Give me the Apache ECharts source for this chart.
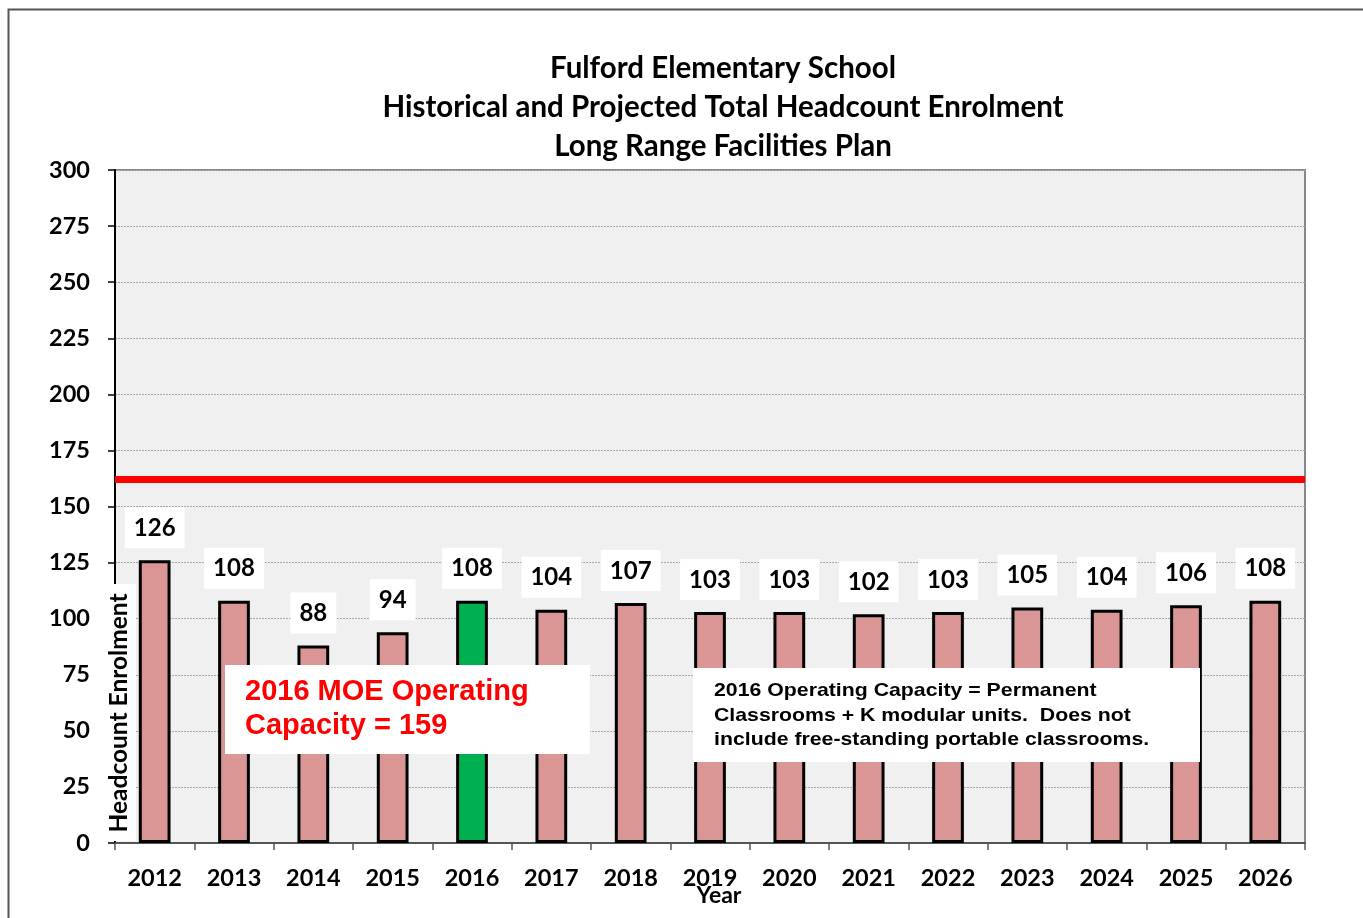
<!DOCTYPE html>
<html>
<head>
    <meta charset="utf-8">
    <title>Fulford Elementary School</title>
    <script src="https://cdn.jsdelivr.net/npm/echarts@6/dist/echarts.min.js"></script>
    <style>
        html, body { margin: 0; padding: 0; background: #fff; }
        #chart { width: 1363px; height: 918px; }
    </style>
</head>
<body>
<div id="chart"></div>
<script type="text/javascript">
    // enrolment by year
    var years = ['2012', '2013', '2014', '2015', '2016', '2017', '2018', '2019', '2020', '2021', '2022', '2023', '2024', '2025', '2026'];
    var enrolment = [126, 108, 88, 94, 108, 104, 107, 103, 103, 102, 103, 105, 104, 106, 108];
    var currentYear = '2016';
    var capacityLine = 162;
    var yTicks = [0, 25, 50, 75, 100, 125, 150, 175, 200, 225, 250, 275, 300];

    var titleFont = 'Lato, "Open Sans", sans-serif';
    var noteFont = '"Liberation Sans", Arial, sans-serif';

    var barData = enrolment.map(function (v, i) {
        if (years[i] === currentYear) {
            return { value: v, itemStyle: { color: '#00b050' } };
        }
        return v;
    });

    var myChart = echarts.init(document.getElementById('chart'));
    myChart.setOption({
        animation: false,
        backgroundColor: '#fff',
        title: {
            text: 'Fulford Elementary School\nHistorical and Projected Total Headcount Enrolment\nLong Range Facilities Plan',
            left: 718,
            textAlign: 'center',
            top: 44,
            textStyle: {
                fontFamily: titleFont,
                fontWeight: 'bold',
                fontSize: 29.5,
                lineHeight: 39,
                color: '#000'
            }
        },
        grid: {
            left: 115,
            right: 58,
            top: 170,
            bottom: 75,
            containLabel: false,
            outerBoundsMode: 'none',
            show: true,
            backgroundColor: '#f0f0f0',
            borderColor: '#888',
            borderWidth: 2
        },
        xAxis: {
            type: 'category',
            data: years,
            axisLine: { lineStyle: { color: '#555', width: 2 } },
            axisTick: { show: true, length: 7, lineStyle: { color: '#555', width: 1.5 } },
            axisLabel: {
                interval: 0,
                margin: 23,
                fontFamily: titleFont,
                fontWeight: 'bold',
                fontSize: 23.5,
                color: '#000'
            },
            splitLine: { show: false }
        },
        yAxis: {
            type: 'value',
            min: yTicks[0],
            max: yTicks[yTicks.length - 1],
            interval: 25,
            axisLine: { show: true, lineStyle: { color: '#000', width: 2 } },
            axisTick: { show: true, length: 7, lineStyle: { color: '#000', width: 1.5 } },
            axisLabel: {
                margin: 25,
                fontFamily: titleFont,
                fontWeight: 'bold',
                fontSize: 23.5,
                color: '#000'
            },
            splitLine: { show: true, lineStyle: { color: '#a8a8a8', type: [2, 1], width: 1 } }
        },
        series: [{
            type: 'bar',
            data: barData,
            barWidth: '40%',
            itemStyle: { color: '#d99694', borderColor: '#000', borderWidth: 3 },
            label: {
                show: true,
                position: 'top',
                distance: 12,
                backgroundColor: '#fff',
                padding: [9, 9, 8, 9],
                fontFamily: titleFont,
                fontWeight: 'bold',
                fontSize: 24,
                color: '#000'
            },
            markLine: {
                silent: true,
                symbol: 'none',
                label: { show: false },
                lineStyle: { color: '#ff0000', width: 7, type: 'solid' },
                data: [{ yAxis: capacityLine }]
            }
        }],
        graphic: [
            // outer frame
            {
                type: 'rect',
                shape: { x: 8.5, y: 9.5, width: 1500, height: 1000 },
                style: { fill: 'none', stroke: '#555', lineWidth: 2 },
                silent: true
            },
            // x axis name
            {
                type: 'text',
                x: 719,
                y: 896,
                z: 51,
                style: {
                    text: 'Year',
                    font: 'bold 23px ' + titleFont,
                    fill: '#000',
                    textAlign: 'center',
                    textVerticalAlign: 'middle'
                }
            },
            // y axis name box
            {
                type: 'rect',
                shape: { x: 106, y: 584, width: 30, height: 257 },
                style: { fill: '#fff' },
                z: 50
            },
            {
                type: 'text',
                x: 119,
                y: 713,
                rotation: Math.PI / 2,
                z: 51,
                style: {
                    text: 'Headcount Enrolment',
                    font: 'bold 24.5px ' + titleFont,
                    fill: '#000',
                    textAlign: 'center',
                    textVerticalAlign: 'middle'
                }
            },
            // MOE capacity note
            {
                type: 'rect',
                shape: { x: 225, y: 665, width: 365, height: 89 },
                style: { fill: '#fff' },
                z: 50
            },
            {
                type: 'text',
                x: 245,
                y: 675,
                z: 51,
                style: {
                    text: '2016 MOE Operating\nCapacity = 159',
                    font: 'bold 29px ' + noteFont,
                    lineHeight: 34,
                    fill: '#ff0000'
                }
            },
            // operating capacity note
            {
                type: 'rect',
                shape: { x: 693, y: 668, width: 507, height: 94 },
                style: { fill: '#fff' },
                z: 50
            },
            {
                type: 'text',
                x: 714,
                y: 679,
                scaleX: 1.12,
                z: 51,
                style: {
                    text: '2016 Operating Capacity = Permanent\nClassrooms + K modular units.  Does not\ninclude free-standing portable classrooms.',
                    font: 'bold 19px ' + noteFont,
                    lineHeight: 24.5,
                    fill: '#000'
                }
            }
        ]
    });
</script>
</body>
</html>
